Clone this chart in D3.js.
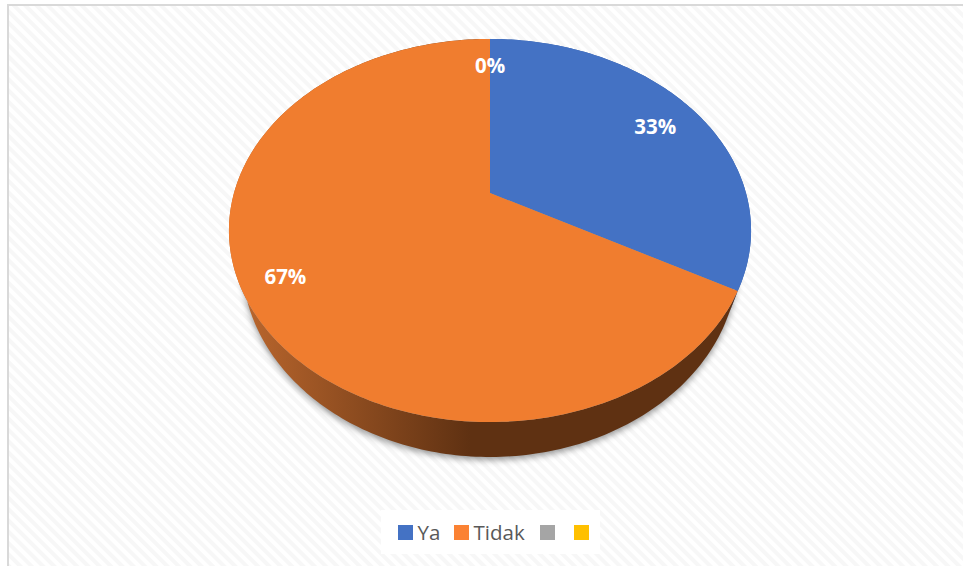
<!DOCTYPE html>
<html>
<head>
<meta charset="utf-8">
<script src="https://cdn.jsdelivr.net/npm/d3@7"></script>
<style>
  html, body { margin: 0; padding: 0; background: #fff; }
  svg { display: block; }
</style>
</head>
<body>
<svg id="chart" width="963" height="566"></svg>
<script>
const categories = ["Ya", "Tidak", "", ""];
const seriesValues = [33, 67, 0, 0];
const sliceColors = ["#4472c4", "#f07d2f", "#a5a5a5", "#ffc000"];
const legendColors = ["#4472c4", "#fb8233", "#a5a5a5", "#ffc000"];
const wallColors = ["#3a62a8", "url(#wallShade)", "#6b6b6b", "#a07800"];
const labeledSlices = [0, 1, 2];

// Tilted-disc projection: the near edge of the disc is drawn larger than the far edge.
const tilt = -0.1958;
const topDisc = { cx: 490, cy: 193, a: 256, b: 184.2 };
const baseDisc = { cx: 490, cy: 222.6, a: 243.2, b: 188.5 };
const project = (disc, angle, r = 1) => {
  const x = r * Math.sin(angle), y = -r * Math.cos(angle), w = 1 + tilt * y;
  return [disc.cx + disc.a * x / w, disc.cy + disc.b * y / w];
};

const svg = d3.select("#chart");
const defs = svg.append("defs");

const hatch = defs.append("pattern")
  .attr("id", "hatch").attr("patternUnits", "userSpaceOnUse")
  .attr("width", 8).attr("height", 8)
  .attr("patternTransform", "rotate(45)");
hatch.append("rect").attr("width", 8).attr("height", 8).attr("fill", "#ffffff");
hatch.append("rect").attr("width", 8).attr("height", 4).attr("fill", "#f7f7f7");

const wallShade = defs.append("linearGradient")
  .attr("id", "wallShade").attr("gradientUnits", "userSpaceOnUse")
  .attr("x1", 235).attr("x2", 470).attr("y1", 0).attr("y2", 0);
wallShade.append("stop").attr("offset", 0).attr("stop-color", "#bd682e");
wallShade.append("stop").attr("offset", 1).attr("stop-color", "#5f3112");

defs.append("filter").attr("id", "soft")
  .attr("x", "-10%").attr("y", "-10%").attr("width", "120%").attr("height", "120%")
  .append("feGaussianBlur").attr("stdDeviation", 3);

// Chart area with its hatched fill and light frame
svg.append("rect").attr("width", 963).attr("height", 566).attr("fill", "#fff");
svg.append("rect")
  .attr("x", 8).attr("y", 5).attr("width", 970).attr("height", 580)
  .attr("fill", "url(#hatch)").attr("stroke", "#d9d9d9").attr("stroke-width", 2);

const pie = d3.pie().value(d => d).sort(null);
const arcs = pie(seriesValues);
const line = d3.line();

const arcPoints = (disc, start, end) => {
  const steps = Math.max(2, Math.ceil((end - start) * 60));
  return d3.range(steps + 1).map(i => project(disc, start + (end - start) * i / steps));
};

// Soft shadow under the pie
svg.append("path")
  .attr("d", line(arcPoints(baseDisc, 0, 2 * Math.PI)) + "Z")
  .attr("transform", "translate(0,3)")
  .attr("fill", "#000").attr("fill-opacity", 0.4)
  .attr("filter", "url(#soft)");

// Side wall of each slice, between the base and the top face
svg.append("g").selectAll("path")
  .data(arcs.filter(d => d.value > 0))
  .join("path")
  .attr("d", d => line(arcPoints(topDisc, d.startAngle, d.endAngle)
    .concat(arcPoints(baseDisc, d.startAngle, d.endAngle).reverse())) + "Z")
  .attr("fill", d => wallColors[d.index]);

// Top face
svg.append("g").selectAll("path")
  .data(arcs.filter(d => d.value > 0))
  .join("path")
  .attr("d", d => line([[topDisc.cx, topDisc.cy]]
    .concat(arcPoints(topDisc, d.startAngle, d.endAngle))) + "Z")
  .attr("fill", d => sliceColors[d.index]);

// Percentage labels, placed along each slice's middle direction
const total = d3.sum(seriesValues);
const percent = d3.format(".0%");
const labelRadius = [0.8, 0.85, 0.8];
const labelNudge = [[2, 3], [0, -3], [0, 0]];
const midAngle = d => d.value === 0 ? d.startAngle : (d.startAngle + d.endAngle) / 2;
svg.append("g").selectAll("text")
  .data(labeledSlices.map(i => arcs[i]))
  .join("text")
  .attr("transform", (d, i) => {
    const [x, y] = project(topDisc, midAngle(d), labelRadius[i]);
    return `translate(${x + labelNudge[i][0]},${y + labelNudge[i][1]})`;
  })
  .attr("text-anchor", "middle").attr("dy", "0.36em")
  .attr("font-family", "'Open Sans', sans-serif")
  .attr("font-size", 20.5).attr("font-weight", 700).attr("fill", "#fff")
  .text(d => percent(d.value / total));

// Legend
const legend = svg.append("g");
legend.append("rect")
  .attr("x", 381).attr("y", 510).attr("width", 219).attr("height", 44)
  .attr("fill", "#fff");
const swatchX = d3.scaleOrdinal().domain(d3.range(4)).range([398, 454, 540, 574]);
const items = legend.selectAll("g").data(categories).join("g")
  .attr("transform", (d, i) => `translate(${swatchX(i)},525)`);
items.append("rect").attr("width", 15).attr("height", 15)
  .attr("fill", (d, i) => legendColors[i]);
items.append("text")
  .attr("x", 19.5).attr("y", 15)
  .attr("font-family", "'Open Sans', sans-serif")
  .attr("font-size", 20.5).attr("fill", "#595959")
  .text(d => d);
</script>
</body>
</html>
